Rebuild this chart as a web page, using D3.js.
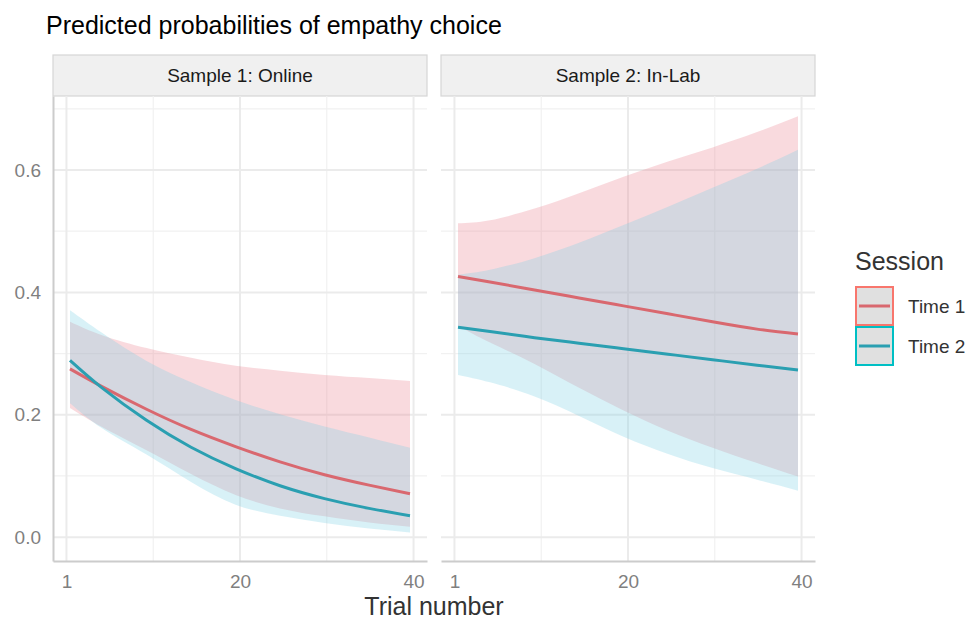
<!DOCTYPE html>
<html>
<head>
  <meta charset="utf-8">
  <title>Predicted probabilities of empathy choice</title>
  <style>
    body { margin: 0; background: #fff; }
    svg text { font-family: "Liberation Sans", Arial, Helvetica, sans-serif; }
  </style>
</head>
<body>
<script src="https://cdn.jsdelivr.net/npm/d3@7"></script>
<svg id="chart" width="971" height="620"></svg>

<script>
    // data
    var panels = ["Sample 1: Online", "Sample 2: In-Lab"];
    var sessions = ["Time 1", "Time 2"];
    var trials = [1.4, 5, 10, 15, 20, 25, 30, 35, 39.6];

    var onlineTime1    = [0.275, 0.246, 0.209, 0.176, 0.148, 0.123, 0.102, 0.085, 0.071];
    var onlineTime1Lo  = [0.211, 0.180, 0.142, 0.103, 0.069, 0.047, 0.034, 0.024, 0.017];
    var onlineTime1Hi  = [0.352, 0.330, 0.309, 0.293, 0.280, 0.272, 0.265, 0.260, 0.255];
    var onlineTime2    = [0.289, 0.244, 0.191, 0.147, 0.112, 0.084, 0.063, 0.047, 0.035];
    var onlineTime2Lo  = [0.219, 0.178, 0.135, 0.090, 0.053, 0.035, 0.023, 0.014, 0.0075];
    var onlineTime2Hi  = [0.371, 0.334, 0.288, 0.253, 0.224, 0.201, 0.181, 0.163, 0.146];

    var labTime1       = [0.426, 0.417, 0.404, 0.391, 0.378, 0.365, 0.352, 0.340, 0.332];
    var labTime1Lo     = [0.345, 0.318, 0.283, 0.244, 0.207, 0.174, 0.146, 0.121, 0.099];
    var labTime1Hi     = [0.513, 0.518, 0.537, 0.562, 0.589, 0.614, 0.637, 0.662, 0.688];
    var labTime2       = [0.343, 0.336, 0.326, 0.317, 0.308, 0.299, 0.290, 0.281, 0.273];
    var labTime2Lo     = [0.265, 0.253, 0.230, 0.198, 0.164, 0.136, 0.113, 0.094, 0.076];
    var labTime2Hi     = [0.429, 0.437, 0.456, 0.481, 0.510, 0.540, 0.571, 0.602, 0.633];

    var xTickValues = [1, 20.5, 40];
    var xTickLabels = ["1", "20", "40"];
    var xMinor = [10.75, 30.25];
    var yTicks = [0, 0.2, 0.4, 0.6];
    var yMinor = [0.1, 0.3, 0.5, 0.7];

    var series = [
        [ {fit: onlineTime1, lo: onlineTime1Lo, hi: onlineTime1Hi},
          {fit: onlineTime2, lo: onlineTime2Lo, hi: onlineTime2Hi} ],
        [ {fit: labTime1, lo: labTime1Lo, hi: labTime1Hi},
          {fit: labTime2, lo: labTime2Lo, hi: labTime2Hi} ]
    ];

    var lineColor = ["#d9686f", "#2a9fb1"];
    var ribbonColor = ["#eb8491", "#7dd0e4"];
    var keyColor = ["#f8766d", "#00bfc4"];

    var svg = d3.select("#chart");

    var panelLeft = [53, 441], panelW = 374;
    var panelTop = 96, panelBottom = 561;
    var stripTop = 55;

    var xDom = d3.extent(trials), xPad = (xDom[1] - xDom[0]) * 0.05;
    var y = d3.scaleLinear().domain([-0.039, 0.721]).range([panelBottom, panelTop]);

    // title
    svg.append("text")
        .attr("x", 46).attr("y", 34)
        .attr("font-size", 25).attr("fill", "#000")
        .text("Predicted probabilities of empathy choice");

    panels.forEach(function(name, p) {
        var x = d3.scaleLinear()
            .domain([xDom[0] - xPad, xDom[1] + xPad])
            .range([panelLeft[p], panelLeft[p] + panelW]);
        var g = svg.append("g");

        // strip
        g.append("rect")
            .attr("x", panelLeft[p]).attr("y", stripTop)
            .attr("width", panelW).attr("height", panelTop - stripTop)
            .attr("fill", "#f0f0f0").attr("stroke", "#d6d6d6").attr("stroke-width", 1.2);
        g.append("text")
            .attr("x", panelLeft[p] + panelW / 2).attr("y", (stripTop + panelTop) / 2)
            .attr("dy", "0.35em").attr("text-anchor", "middle")
            .attr("font-size", 19).attr("fill", "#1a1a1a")
            .text(name);

        // grid
        g.selectAll(".ymin").data(yMinor).enter().append("line")
            .attr("x1", x.range()[0]).attr("x2", x.range()[1])
            .attr("y1", y).attr("y2", y)
            .attr("stroke", "#f1f1f1").attr("stroke-width", 1.2);
        g.selectAll(".xmin").data(xMinor).enter().append("line")
            .attr("x1", x).attr("x2", x)
            .attr("y1", panelTop).attr("y2", panelBottom)
            .attr("stroke", "#f1f1f1").attr("stroke-width", 1.2);
        g.selectAll(".ymaj").data(yTicks).enter().append("line")
            .attr("x1", x.range()[0]).attr("x2", x.range()[1])
            .attr("y1", y).attr("y2", y)
            .attr("stroke", "#ebebeb").attr("stroke-width", 2);
        g.selectAll(".xmaj").data(xTickValues).enter().append("line")
            .attr("x1", x).attr("x2", x)
            .attr("y1", panelTop).attr("y2", panelBottom)
            .attr("stroke", "#ebebeb").attr("stroke-width", 2);

        var area = d3.area()
            .x(function(d) { return x(d.t); })
            .y0(function(d) { return y(d.lo); })
            .y1(function(d) { return y(d.hi); })
            .curve(d3.curveNatural);
        var line = d3.line()
            .x(function(d) { return x(d.t); })
            .y(function(d) { return y(d.v); })
            .curve(d3.curveNatural);

        series[p].forEach(function(s, i) {
            var pts = trials.map(function(t, k) { return {t: t, v: s.fit[k], lo: s.lo[k], hi: s.hi[k]}; });
            g.append("path").attr("d", area(pts))
                .attr("fill", ribbonColor[i]).attr("fill-opacity", 0.3);
        });
        series[p].forEach(function(s, i) {
            var pts = trials.map(function(t, k) { return {t: t, v: s.fit[k]}; });
            g.append("path").attr("d", line(pts))
                .attr("fill", "none").attr("stroke", lineColor[i]).attr("stroke-width", 3);
        });

        // x axis
        var xAxis = d3.axisBottom(x).tickValues(xTickValues)
            .tickFormat(function(d, i) { return xTickLabels[i]; })
            .tickSize(0).tickPadding(14);
        var ax = g.append("g").attr("transform", "translate(0," + panelBottom + ")").call(xAxis);
        ax.select(".domain").attr("stroke", "#cccccc").attr("stroke-width", 2);
        ax.selectAll("text").attr("font-size", 19).attr("fill", "#7f7f7f");

        if (p === 0) {
            var yAxis = d3.axisLeft(y).tickValues(yTicks).tickFormat(d3.format(".1f"))
                .tickSize(0).tickPadding(12);
            var ay = g.append("g").attr("transform", "translate(" + panelLeft[0] + ",0)").call(yAxis);
            ay.select(".domain").attr("stroke", "#cccccc").attr("stroke-width", 2);
            ay.selectAll("text").attr("font-size", 19).attr("fill", "#7f7f7f");
        }
    });

    // x axis title
    svg.append("text")
        .attr("x", (panelLeft[0] + panelLeft[1] + panelW) / 2).attr("y", 615)
        .attr("text-anchor", "middle").attr("font-size", 25).attr("fill", "#333")
        .text("Trial number");

    // legend
    var lg = svg.append("g").attr("transform", "translate(855,0)");
    lg.append("text").attr("x", 0).attr("y", 270)
        .attr("font-size", 25).attr("fill", "#333").text("Session");
    sessions.forEach(function(s, i) {
        var top = 287 + i * 40;
        lg.append("rect").attr("x", 1).attr("y", top).attr("width", 37).attr("height", 38)
            .attr("fill", "#e0e0e0").attr("stroke", keyColor[i]).attr("stroke-width", 2);
        lg.append("line").attr("x1", 4).attr("x2", 35).attr("y1", top + 19).attr("y2", top + 19)
            .attr("stroke", lineColor[i]).attr("stroke-width", 3);
        lg.append("text").attr("x", 53).attr("y", top + 19).attr("dy", "0.35em")
            .attr("font-size", 19).attr("fill", "#333").text(s);
    });
</script>
</body>
</html>
